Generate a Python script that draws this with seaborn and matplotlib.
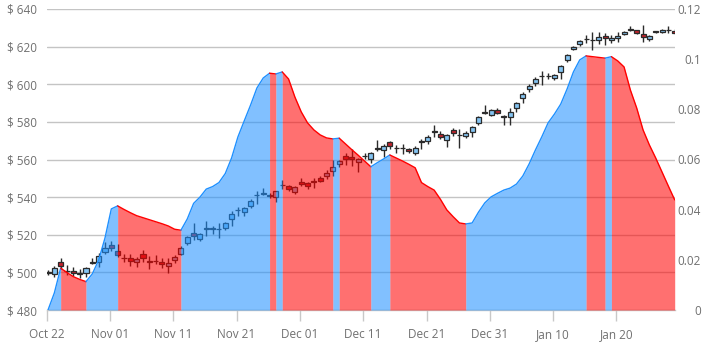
import numpy as np
import pandas as pd
import matplotlib
matplotlib.use("Agg")
import matplotlib.pyplot as plt
import seaborn as sns

# ---------------- data ----------------
start_date = "2019-10-22 05:00"

opens = [499.8, 499.1, 505.4, 500.9, 500.9, 499.6, 499.5, 505.2, 505.7, 511.0,
         514.7, 511.4, 507.6, 507.8, 505.4, 509.8, 505.8, 506.1, 505.4, 503.6,
         506.6, 509.8, 515.5, 521.0, 517.7, 523.5, 523.5, 523.0, 523.4, 528.4,
         533.3, 532.3, 535.5, 541.1, 542.1, 540.9, 540.2, 546.6, 545.9, 542.5,
         547.9, 547.4, 548.3, 550.0, 551.0, 554.1, 557.6, 561.9, 561.5, 558.5,
         562.0, 560.5, 566.3, 565.0, 569.2, 566.1, 566.1, 565.4, 563.6, 569.7,
         569.6, 574.9, 573.6, 570.4, 575.5, 573.1, 572.5, 574.8, 579.6, 585.3,
         583.7, 586.3, 582.9, 582.8, 587.2, 592.5, 597.3, 600.9, 604.5, 604.5,
         603.2, 606.4, 612.9, 618.6, 621.6, 624.2, 623.6, 623.5, 625.6, 623.4,
         624.5, 626.6, 629.3, 628.7, 626.6, 624.1, 628.1, 628.0, 629.0, 628.5]

closes = [500.0, 502.2, 503.4, 500.5, 499.5, 499.4, 502.2, 505.5, 508.5, 512.8,
          512.8, 509.2, 507.4, 506.2, 507.0, 507.5, 505.6, 505.9, 504.3, 504.8,
          508.0, 512.8, 518.6, 519.5, 520.4, 523.3, 523.3, 522.8, 526.0, 531.0,
          533.1, 534.0, 538.2, 540.9, 541.9, 540.7, 543.3, 546.4, 544.2, 545.2,
          546.8, 545.9, 548.1, 548.8, 552.7, 556.2, 559.4, 560.1, 560.1, 560.3,
          561.8, 563.3, 565.4, 567.2, 567.4, 565.9, 565.9, 564.5, 566.3, 569.5,
          572.2, 574.7, 571.8, 572.9, 574.0, 572.9, 574.3, 577.4, 582.4, 584.7,
          586.3, 584.6, 582.7, 585.0, 589.9, 594.8, 599.1, 602.6, 604.3, 604.3,
          604.9, 609.7, 615.6, 620.0, 623.0, 624.0, 623.4, 625.2, 624.5, 624.5,
          625.9, 628.0, 629.1, 627.4, 625.3, 625.7, 627.9, 628.9, 628.8, 627.1]

highs = [501.0, 503.5, 507.5, 504.0, 503.0, 502.0, 502.8, 507.5, 510.5, 516.0,
         516.5, 515.0, 510.0, 510.0, 508.0, 512.0, 508.5, 509.5, 507.5, 507.5,
         509.0, 514.0, 519.5, 526.0, 521.0, 527.5, 524.5, 526.0, 527.0, 532.5,
         535.0, 534.5, 539.0, 543.0, 545.0, 542.0, 543.5, 549.0, 546.5, 546.0,
         550.0, 548.0, 550.0, 551.0, 554.5, 560.0, 560.0, 563.5, 565.5, 561.0,
         563.5, 564.0, 570.5, 568.5, 570.0, 567.5, 568.0, 566.0, 567.0, 571.0,
         573.0, 578.5, 575.0, 573.5, 576.5, 576.0, 575.0, 578.0, 583.0, 589.0,
         587.0, 587.5, 583.5, 587.5, 590.5, 596.0, 600.0, 604.0, 607.0, 606.0,
         605.5, 610.0, 616.0, 620.5, 623.5, 626.0, 628.0, 628.0, 627.5, 626.0,
         628.0, 628.5, 631.0, 629.0, 631.5, 626.0, 628.5, 629.5, 631.0, 629.5]

lows = [498.5, 497.5, 502.0, 498.6, 498.0, 497.0, 497.5, 504.5, 503.0, 510.0,
        511.5, 508.0, 505.5, 503.5, 503.0, 505.5, 502.0, 504.5, 502.5, 499.5,
        505.0, 509.0, 514.5, 517.0, 516.5, 519.5, 520.5, 518.5, 522.5, 524.5,
        530.0, 530.0, 534.0, 536.5, 541.0, 539.5, 537.5, 544.5, 543.0, 541.5,
        546.0, 544.5, 545.0, 548.0, 549.5, 551.0, 556.0, 557.0, 556.5, 553.5,
        560.5, 558.0, 564.5, 561.5, 565.5, 563.5, 563.0, 563.5, 562.5, 565.5,
        568.5, 572.0, 571.0, 566.5, 572.5, 566.0, 571.5, 572.0, 578.5, 584.0,
        583.0, 584.0, 578.5, 578.5, 585.0, 590.0, 596.0, 599.0, 599.6, 603.0,
        602.5, 602.8, 612.0, 618.0, 620.5, 622.0, 618.0, 621.5, 621.0, 622.0,
        622.5, 626.0, 628.5, 626.5, 622.5, 623.0, 627.5, 627.5, 627.0, 626.5]

ratio = [0.0000, 0.0068, 0.0167, 0.0149, 0.0133, 0.0122, 0.0113, 0.0144, 0.0199, 0.0287,
         0.0403, 0.0415, 0.0401, 0.0388, 0.0376, 0.0368, 0.0360, 0.0352, 0.0344, 0.0335,
         0.0322, 0.0318, 0.0363, 0.0425, 0.0450, 0.0482, 0.0492, 0.0508, 0.0544, 0.0606,
         0.0690, 0.0754, 0.0817, 0.0885, 0.0925, 0.0944, 0.0941, 0.0949, 0.0921, 0.0849,
         0.0790, 0.0746, 0.0718, 0.0698, 0.0686, 0.0682, 0.0685, 0.0662, 0.0639, 0.0617,
         0.0594, 0.0571, 0.0587, 0.0602, 0.0618, 0.0606, 0.0594, 0.0581, 0.0567, 0.0508,
         0.0492, 0.0478, 0.0441, 0.0399, 0.0372, 0.0347, 0.0343, 0.0347, 0.0390, 0.0427,
         0.0451, 0.0465, 0.0478, 0.0486, 0.0502, 0.0534, 0.0582, 0.0638, 0.0690, 0.0746,
         0.0781, 0.0821, 0.0881, 0.0949, 0.0997, 0.1013, 0.1010, 0.1007, 0.1004, 0.1010,
         0.0993, 0.0969, 0.0877, 0.0805, 0.0718, 0.0658, 0.0606, 0.0550, 0.0494, 0.0439]

tick_dates = ["2019-10-22", "2019-11-01", "2019-11-11", "2019-11-21", "2019-12-01",
              "2019-12-11", "2019-12-21", "2019-12-31", "2020-01-10", "2020-01-20"]
tick_labels = ["Oct 22", "Nov 01", "Nov 11", "Nov 21", "Dec 01",
               "Dec 11", "Dec 21", "Dec 31", "Jan 10", "Jan 20"]
price_ticks = [480, 500, 520, 540, 560, 580, 600, 620, 640]
price_labels = ["$ 480", "$ 500", "$ 520", "$ 540", "$ 560", "$ 580", "$ 600", "$ 620", "$ 640"]
ratio_ticks = [0, 0.02, 0.04, 0.06, 0.08, 0.10, 0.12]
ratio_labels = ["0", "0.02", "0.04", "0.06", "0.08", "0.1", "0.12"]

# ---------------- build ----------------
dates = pd.date_range(start_date, periods=len(opens), freq="D")
df = pd.DataFrame({"date": dates, "open": opens, "high": highs,
                   "low": lows, "close": closes, "ratio": ratio})

sns.set_theme(style="white")
plt.rcParams["font.family"] = ["Open Sans", "DejaVu Sans"]

W, H = 720, 353
fig = plt.figure(figsize=(W / 100, H / 100), dpi=100)
L, R, T, B = 46.7, 674.7, 9.0, 310.0
ax = fig.add_axes([L / W, 1 - B / H, (R - L) / W, (B - T) / H])
ax2 = ax.twinx()

TEXT = "#707070"

# candles on left axis
up = df["close"] >= df["open"]
body_lo = np.minimum(df["open"], df["close"])
body_h = np.maximum((df["close"] - df["open"]).abs(), 0.25)
ax.vlines(df["date"], df["low"], df["high"], color="#2b2b2b", lw=1.0, zorder=2)
ax.bar(df["date"], body_h, bottom=body_lo, width=0.8,
       color=np.where(up, "#84C4F2", "#C4222C"), edgecolor="#2b2b2b",
       linewidth=0.9, zorder=3)

ax.set_ylim(480, 640)
ax.set_xlim(pd.Timestamp("2019-10-22 00:00"), dates[-1])
ax.set_yticks(price_ticks)
ax.set_yticklabels(price_labels)
ax.set_xticks(pd.to_datetime(tick_dates))
ax.set_xticklabels(tick_labels)
ax.yaxis.grid(True, color="#c4c4c4", lw=1.0)
ax.xaxis.grid(False)
ax.set_axisbelow(True)
for s in ["top", "left", "right"]:
    ax.spines[s].set_visible(False)
ax.spines["bottom"].set_color("#c8c8c8")
ax.spines["bottom"].set_linewidth(1.0)
ax.tick_params(axis="x", bottom=True, length=8, width=1, color="#c8c8c8",
               labelcolor=TEXT, labelsize=8.5, pad=5, direction="out")
ax.tick_params(axis="y", left=False, length=0, labelcolor=TEXT, labelsize=8.5, pad=7)
ax.set_xlabel("")
ax.set_ylabel("")

# area on right axis, colored by direction
BLUE, RED = "#1E90FF", "#FF0000"
vals = df["ratio"].to_numpy()
n = len(vals)
seg_up = [vals[i + 1] >= vals[i] for i in range(n - 1)]
runs = []
a = 0
for i in range(1, n - 1):
    if seg_up[i] != seg_up[a]:
        runs.append((a, i, seg_up[a]))
        a = i
runs.append((a, n - 1, seg_up[a]))

for a, b, is_up in runs:
    seg = df.iloc[a:b + 1]
    col = BLUE if is_up else RED
    ax2.fill_between(seg["date"], 0, seg["ratio"], color=col, alpha=0.56,
                     linewidth=0, zorder=1)
    sns.lineplot(x=seg["date"], y=seg["ratio"], ax=ax2, color=col, lw=1.0,
                 zorder=2, estimator=None, sort=False)

ax2.set_ylim(0, 0.12)
ax2.set_yticks(ratio_ticks)
ax2.set_yticklabels(ratio_labels)
ax2.grid(False)
for s in ax2.spines.values():
    s.set_visible(False)
ax2.tick_params(axis="y", right=False, length=0, labelcolor=TEXT, labelsize=8.5,
                pad=19)
for lbl in ax2.get_yticklabels():
    lbl.set_horizontalalignment("right")
ax2.set_xlabel("")
ax2.set_ylabel("")
ax2.set_xlim(ax.get_xlim())

fig.savefig("out.png", dpi=100)
